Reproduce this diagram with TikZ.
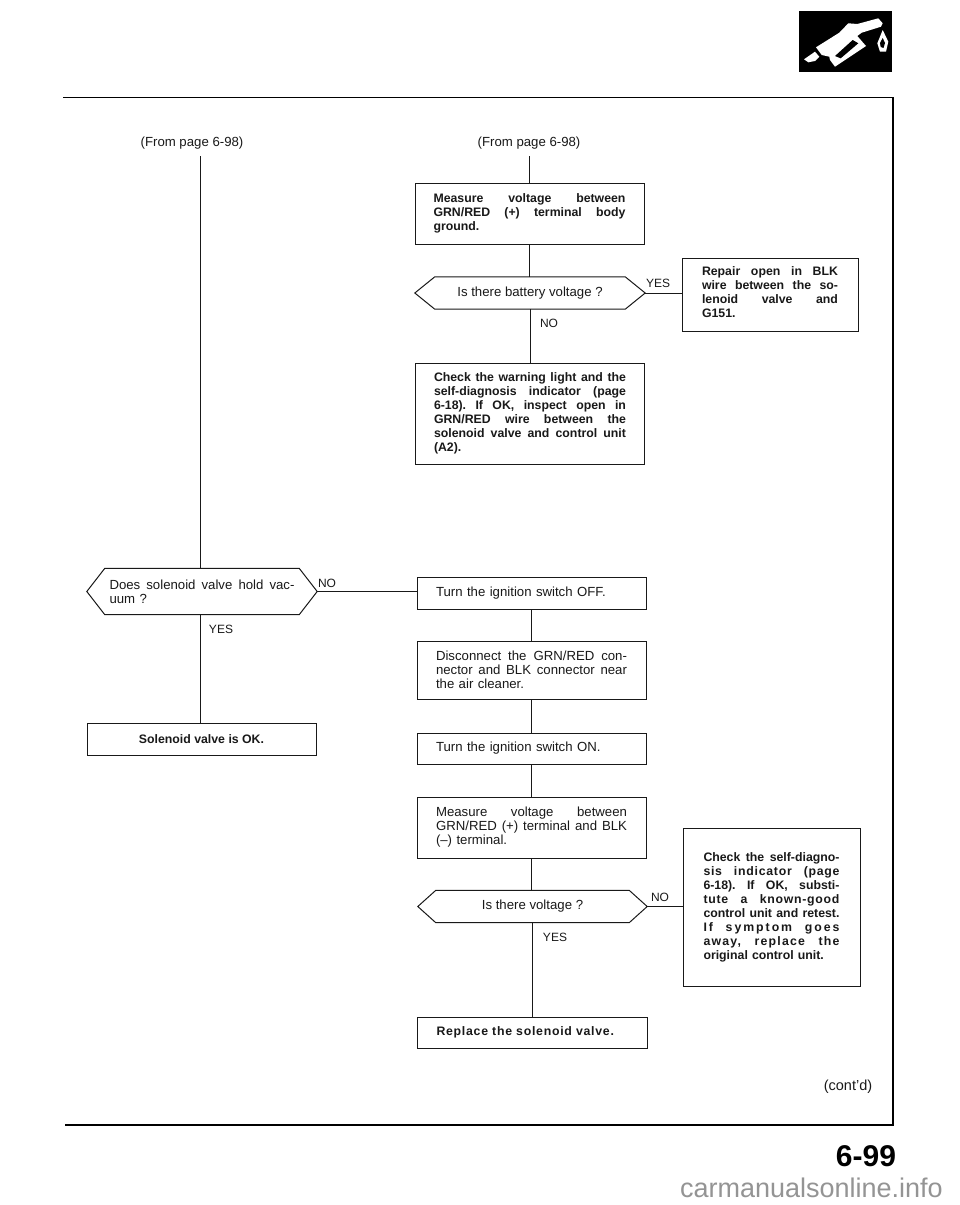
\documentclass[tikz,border=0pt]{standalone}
\usepackage{fontspec}
\setmainfont{Liberation Sans}
\usetikzlibrary{calc}
\newlength{\linew}
\newcommand{\J}[1]{\makebox[\linew][s]{\frenchspacing\spaceskip=0pt\xspaceskip=0pt\relax #1}\par}
\newcommand{\hexa}[2]{\draw[flowline] (#1.west) -- ($(#1.north west)+(#2,0)$) -- ($(#1.north east)+(-#2,0)$) -- (#1.east) -- ($(#1.south east)+(-#2,0)$) -- ($(#1.south west)+(#2,0)$) -- cycle;}
\tikzset{
  flowline/.style={line width=1pt,draw=black!90},
  base/.style={inner sep=0pt,align=left,text=black!90,font=\fontsize{13.2}{14}\selectfont},
  plainbox/.style={base,draw=black!90,line width=1pt},
  boldbox/.style={plainbox,font=\fontsize{12.3}{14}\bfseries\selectfont},
  hexbox/.style={base},
  lab/.style={base,font=\fontsize{12}{14}\selectfont},
  pagelab/.style={base,font=\fontsize{13.2}{14}\selectfont},
}
\begin{document}
\begin{tikzpicture}[x=1pt,y=-1pt]
\useasboundingbox (0,0) rectangle (960,1205);
\fill[white] (0,0) rectangle (960,1205);

% header icon
\fill[black] (799,11) rectangle (892,72);
\fill[white] (816,47.3) -- (839.3,32.7) -- (848.3,23.3) -- (857.3,24) -- (878.3,18.3) -- (882.7,23.3) -- (881,26.7) -- (861.7,32.7) -- (857.3,36) -- (866,46) -- (835,66.7) -- (830,60) -- (829.3,56.7) -- (821.7,55) -- cycle;
\fill[black] (835,56) -- (852.7,40) -- (858.3,43.3) -- (840.7,58.3) -- cycle;
\fill[white] (804,59.3) -- (815,51.7) -- (819.3,56.7) -- (815,61) -- (808.3,62.3) -- cycle;
\fill[white] (882.7,30) -- (888.3,41.7) -- (886,51.7) -- (880,51.7) -- (877.3,43.3) -- cycle;
\fill[black] (882.7,38) -- (885,43) -- (883.5,48) -- (880.7,47) -- (880,43) -- cycle;

% page frame
\draw[line width=1.6pt,black] (63,97.5) -- (893,97.5) -- (893,1125) -- (65,1125);

% labels with no box
\node[pagelab] (from1) at (192,143) {(From page 6-98)};
\node[pagelab] (from2) at (529,143) {(From page 6-98)};
\coordinate (top1) at (200.7,156);
\coordinate (top2) at (529.5,156);

% right column, upper
\setlength{\linew}{192pt}
\node[boldbox,minimum width=229pt,minimum height=61pt,text width=192pt] (b1) at (529.5,213.5) {\J{Measure voltage between}\J{GRN/RED (+) terminal body}ground.};
\node[hexbox,minimum width=230pt,minimum height=32pt,align=center] (d1) at (530,293) {Is there battery voltage ?};
\setlength{\linew}{136pt}
\node[boldbox,minimum width=176pt,minimum height=73pt,text width=136pt] (r1) at (770,294.5) {\J{Repair open in BLK}\J{wire between the so-}\J{lenoid valve and}G151.\par\vspace{4pt}};
\setlength{\linew}{192pt}
\node[boldbox,minimum width=229.5pt,minimum height=101pt,text width=192pt] (c1) at (530,413.5) {\J{Check the warning light and the}\J{self-diagnosis indicator (page}\J{6-18). If OK, inspect open in}\J{GRN/RED wire between the}\J{solenoid valve and control unit}(A2).};

% right column, middle
\setlength{\linew}{191pt}
\node[plainbox,minimum width=229pt,minimum height=32pt,text width=191pt] (off) at (531.5,593) {Turn the ignition switch OFF.};
\node[plainbox,minimum width=229pt,minimum height=58pt,text width=191pt] (dis) at (531.5,670) {\J{Disconnect the GRN/RED con-}\J{nector and BLK connector near}the air cleaner.};
\node[plainbox,minimum width=229pt,minimum height=31pt,text width=191pt] (on) at (531.5,748.5) {Turn the ignition switch ON.};
\node[plainbox,minimum width=229pt,minimum height=61pt,text width=191pt] (m2) at (531.5,827.5) {\J{Measure voltage between}\J{GRN/RED (+) terminal and BLK}(--) terminal.};
\node[hexbox,minimum width=229pt,minimum height=32pt,align=center] (d3) at (532.5,906.5) {Is there voltage ?};
\setlength{\linew}{136pt}
\node[boldbox,minimum width=177pt,minimum height=158pt,text width=136pt] (c2) at (771.5,907) {\J{Check the self-diagno-}\J{\addfontfeature{LetterSpace=6}sis indicator (page}\J{6-18). If OK, substi-}\J{\addfontfeature{LetterSpace=6}tute a known-good}\J{control unit and retest.}\J{\addfontfeature{LetterSpace=16}If symptom goes}\J{\addfontfeature{LetterSpace=10}away, replace the}original control unit.};
\setlength{\linew}{191pt}
\node[boldbox,minimum width=230pt,minimum height=31pt,text width=191pt] (rep) at (532,1032.5) {\addfontfeature{LetterSpace=6}Replace the solenoid valve.};

% left column
\setlength{\linew}{185pt}
\node[hexbox,minimum width=230pt,minimum height=46pt,text width=185pt] (d2) at (202,591.5) {\J{Does solenoid valve hold vac-}uum ?};
\node[boldbox,minimum width=229pt,minimum height=32pt,align=center] (ok) at (201.5,739) {Solenoid valve is OK.};

\hexa{d1}{20}
\hexa{d2}{18}
\hexa{d3}{18}

% connectors
\draw[flowline] (top2) -- (top2 |- b1.north);
\draw[flowline] (b1.south) -- (b1.south |- d1.north);
\draw[flowline] (d1.east) -- (d1.east -| r1.west);
\draw[flowline] (d1.south) -- (d1.south |- c1.north);
\draw[flowline] (top1) -- (top1 |- d2.north);
\draw[flowline] (top1 |- d2.south) -- (top1 |- ok.north);
\draw[flowline] (d2.east) -- (d2.east -| off.west);
\draw[flowline] (off.south) -- (dis.north);
\draw[flowline] (dis.south) -- (on.north);
\draw[flowline] (on.south) -- (m2.north);
\draw[flowline] (m2.south) -- (m2.south |- d3.north);
\draw[flowline] (d3.east) -- (d3.east -| c2.west);
\draw[flowline] (d3.south) -- (d3.south |- rep.north);

% connector labels
\node[lab] (y1) at (658,283) {YES};
\node[lab] (n1) at (549,323) {NO};
\node[lab] (n2) at (327,583) {NO};
\node[lab] (y2) at (221,629) {YES};
\node[lab] (n3) at (660,897) {NO};
\node[lab] (y3) at (555,937) {YES};

% footer
\node[base,font=\fontsize{14.5}{16}\selectfont] (cont) at (848,1087) {(cont'd)};
\node[base,font=\fontsize{30}{32}\bfseries\selectfont,text=black] (pg) at (866,1156) {6-99};
\node[base,font=\fontsize{27}{30}\selectfont,text=black!42,anchor=east] (wm) at (943,1188) {carmanualsonline.info};
\end{tikzpicture}
\end{document}
